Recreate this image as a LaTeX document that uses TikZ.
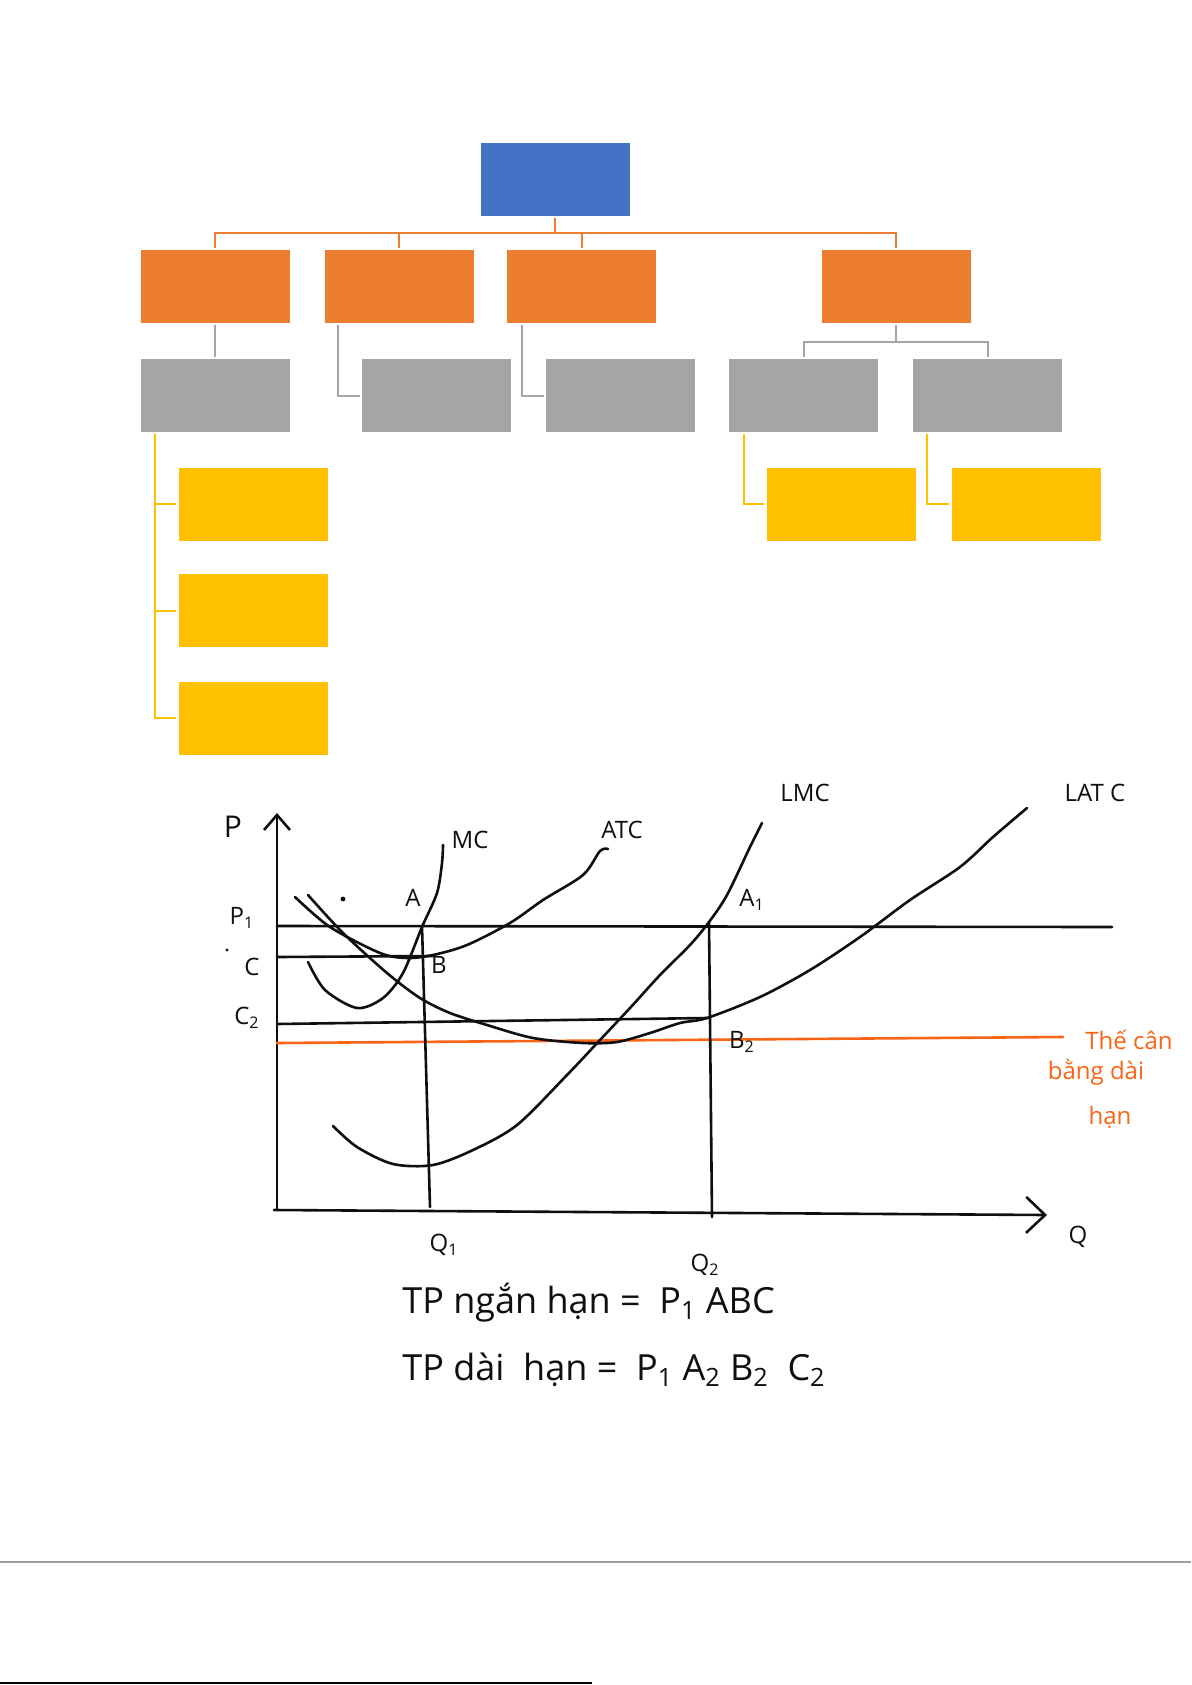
\documentclass[tikz,border=0pt]{standalone}
\usepackage{fontspec}
\setmainfont{Open Sans}
\usetikzlibrary{arrows.meta}
\definecolor{boxblue}{HTML}{4472C4}
\definecolor{boxorange}{HTML}{ED7D31}
\definecolor{boxgray}{HTML}{A5A5A5}
\definecolor{boxgold}{HTML}{FFC000}
\definecolor{ink}{RGB}{15,15,15}
\definecolor{inkorange}{RGB}{250,100,20}

\begin{document}
\begin{tikzpicture}[x=0.5pt, y=-0.5pt,
  box/.style={minimum width=74.5pt, minimum height=36.5pt, inner sep=0pt, draw=none},
  link/.style={line width=1pt, shorten <=1pt, shorten >=1pt},
  pen/.style={line width=1.3pt, draw=ink, line cap=round, line join=round},
  lbl/.style={font=\fontsize{12}{14}\selectfont, text=ink, inner sep=1pt}]
  \useasboundingbox[fill=white] (0,0) rectangle (1191,1685);

  % org chart
  \node[box, fill=boxblue] (top) at (555,179.5) {};
  \node[box, fill=boxorange] (oA) at (215,286.5) {};
  \node[box, fill=boxorange] (oB) at (399,286.5) {};
  \node[box, fill=boxorange] (oC) at (581.5,286.5) {};
  \node[box, fill=boxorange] (oD) at (896,286.5) {};
  \node[box, fill=boxgray] (gA) at (215,395.5) {};
  \node[box, fill=boxgray] (gB) at (436.5,395.5) {};
  \node[box, fill=boxgray] (gC) at (620.5,395.5) {};
  \node[box, fill=boxgray] (gD) at (803.5,395.5) {};
  \node[box, fill=boxgray] (gE) at (987.5,395.5) {};
  \node[box, fill=boxgold] (yA) at (253,504) {};
  \node[box, fill=boxgold] (yB) at (253,610.5) {};
  \node[box, fill=boxgold] (yC) at (253,718) {};
  \node[box, fill=boxgold] (yD) at (841,504) {};
  \node[box, fill=boxgold] (yE) at (1026,504) {};

  \foreach \kid in {oA,oB,oC,oD}
    \draw[link, boxorange] (top.south) -- ++(0,17) -| (\kid.north);
  \draw[link, boxgray] (oA.south) -- (gA.north);
  \draw[link, boxgray] (oB.south west) ++(14,0) |- (gB.west);
  \draw[link, boxgray] (oC.south west) ++(15,0) |- (gC.west);
  \draw[link, boxgray] (oD.south) -- ++(0,19) -| (gD.north);
  \draw[link, boxgray] (oD.south) -- ++(0,19) -| (gE.north);
  \foreach \kid in {yA,yB,yC}
    \draw[link, boxgold] (gA.south west) ++(15,0) |- (\kid.west);
  \draw[link, boxgold] (gD.south west) ++(15,0) |- (yD.west);
  \draw[link, boxgold] (gE.south west) ++(14,0) |- (yE.west);

  % axes
  \draw[pen, -{Straight Barb[length=7.5pt,width=13pt]}] (277,1210) -- (277,813);
  \draw[pen, -{Straight Barb[length=9.5pt,width=18pt]}] (274,1210) -- (1047,1215);

  % price levels and quantities
  \draw[pen] (277,926) -- (1112,927);
  \draw[pen] (277,957) -- (433,956);
  \draw[pen] (277,1024) -- (707,1018);
  \draw[pen, draw=inkorange] (277,1043) -- (1063,1037);
  \draw[pen] (422,926) -- (430,1207);
  \draw[pen] (709,922) -- (712,1217);

  % short run curves
  \draw[pen] plot[smooth] coordinates {(308,962) (325,990) (357,1008) (383,998)
    (403,973) (422,927) (437,893) (442,863) (443,845)};
  \draw[pen] plot[smooth] coordinates {(295,897) (330,927) (380,953) (407,958)
    (433,955) (467,945) (510,923) (543,900) (583,875) (600,851) (608,849)};
  % long run curves
  \draw[pen] plot[smooth] coordinates {(308,895) (343,933) (387,973) (420,998)
    (450,1013) (487,1025) (533,1038) (583,1043) (617,1042) (650,1033) (680,1023)
    (707,1018) (760,997) (810,970) (860,937) (910,900) (960,867) (993,837) (1027,808)};
  \draw[pen] plot[smooth] coordinates {(333,1126) (357,1147) (393,1164) (433,1165)
    (473,1150) (517,1125) (567,1075) (600,1040) (630,1008) (660,975) (690,945)
    (709,922) (727,895) (750,847) (762,823)};
  \fill[ink] (343,899) circle (1.2pt);
  \fill[ink] (227,950) circle (0.8pt);

  % labels
  \node[lbl, font=\fontsize{15}{17}\selectfont] (lblP) at (233,827) {P};
  \node[lbl] (lblPone) at (242,918) {P\textsubscript{1}};
  \node[lbl] (lblC) at (252,967) {C};
  \node[lbl] (lblCtwo) at (247,1018) {C\textsubscript{2}};
  \node[lbl] (lblQone) at (444,1245) {Q\textsubscript{1}};
  \node[lbl] (lblQtwo) at (705,1265) {Q\textsubscript{2}};
  \node[lbl] (lblQ) at (1078,1237) {Q};
  \node[lbl] (lblMC) at (470,840) {MC};
  \node[lbl] (lblATC) at (622,830) {ATC};
  \node[lbl] (lblLMC) at (805,793) {LMC};
  \node[lbl] (lblLATC) at (1095,793) {LAT C};
  \node[lbl] (ptA) at (413,898) {A};
  \node[lbl] (ptB) at (439,965) {B};
  \node[lbl] (ptAone) at (752,900) {A\textsubscript{1}};
  \node[lbl] (ptBtwo) at (742,1042) {B\textsubscript{2}};

  \node[lbl, text=inkorange] (noteA) at (1129,1040) {Thế cân};
  \node[lbl, text=inkorange] (noteB) at (1096,1072) {bằng dài};
  \node[lbl, text=inkorange] (noteC) at (1110,1117) {hạn};

  \node[lbl, anchor=west, font=\fontsize{18}{21}\selectfont] (tpShort) at (400,1303)
    {TP ngắn hạn = \ P\textsubscript{1} ABC};
  \node[lbl, anchor=west, font=\fontsize{18}{21}\selectfont] (tpLong) at (400,1370)
    {TP dài \ hạn = \ P\textsubscript{1} A\textsubscript{2} B\textsubscript{2} \ C\textsubscript{2}};

  % page rules
  \draw[line width=0.6pt, draw=black!38] (0,1562) -- (1191,1562);
  \draw[line width=1pt, draw=black] (0,1683) -- (592,1683);
\end{tikzpicture}
\end{document}
